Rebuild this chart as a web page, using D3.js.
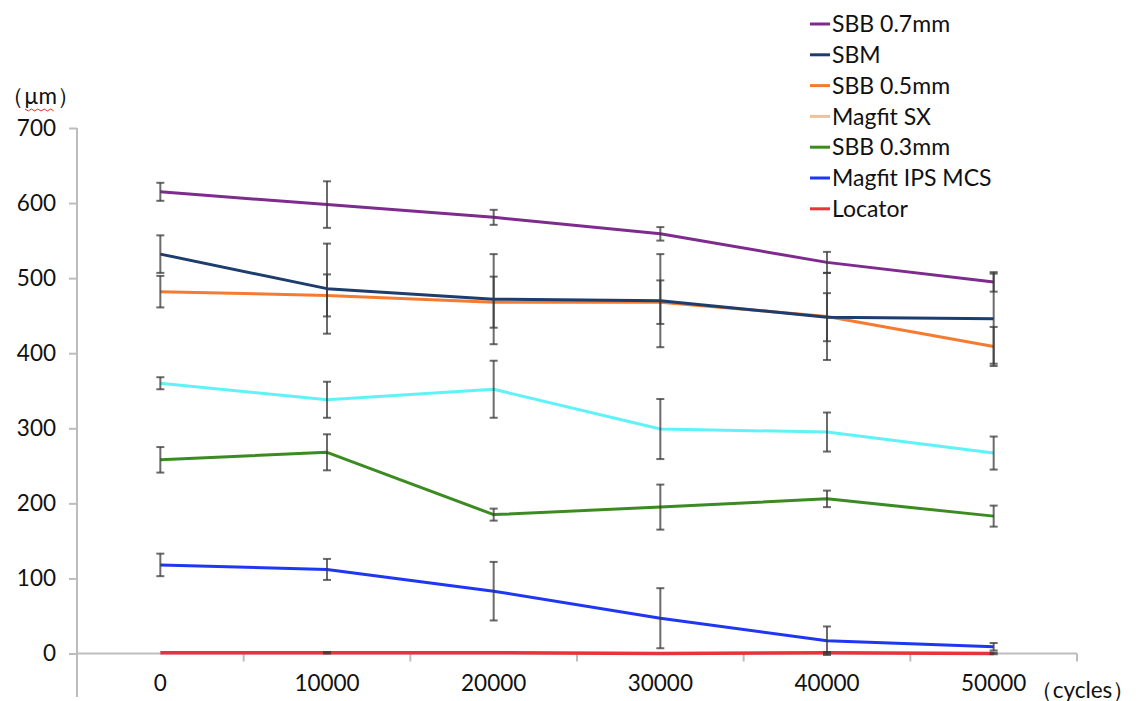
<!DOCTYPE html>
<html><head><meta charset="utf-8">
<script src="https://cdn.jsdelivr.net/npm/d3@7"></script>
<style>body{margin:0;background:#fff}svg{display:block}text{font-family:Lato,"Noto Sans",sans-serif;fill:#111}</style>
</head><body>
<script>
const categories = ["0","10000","20000","30000","40000","50000"];
const seriesNames = ["SBB 0.7mm","SBM","SBB 0.5mm","Magfit SX","SBB 0.3mm","Magfit IPS MCS","Locator"];
const lineColors = ["#7d2b8c","#1c3d6e","#f47b30","#5ff3f7","#3b8b22","#1f36f3","#e8333b"];
const legendColors = ["#7d2b8c","#1c3d6e","#f47b30","#f7bf93","#3b8b22","#1f36f3","#e8333b"];
const sbb07 = [615, 598, 581, 559, 521, 495];
const sbb07Err = [12, 31, 10, 9, 14, 13];
const sbm = [532, 486, 472, 470, 448, 446];
const sbmErr = [25, 60, 60, 62, 32, 60];
const sbb05 = [482, 477, 468, 468, 449, 409];
const sbb05Err = [21, 28, 34, 29, 58, 26];
const magfitSX = [360, 338, 352, 299, 295, 267];
const magfitSXErr = [8, 24, 38, 40, 26, 22];
const sbb03 = [258, 268, 185, 195, 206, 183];
const sbb03Err = [17, 24, 8, 30, 11, 14];
const magfitIPS = [118, 112, 83, 47, 17, 9];
const magfitIPSErr = [15, 14, 39, 40, 19, 5];
const locator = [1, 1, 1, 0, 1, 0];
const locatorErr = [0, 1, 0, 0, 1, 1];
const yTicks = [0,100,200,300,400,500,600,700];

const values = [sbb07, sbm, sbb05, magfitSX, sbb03, magfitIPS, locator];
const errors = [sbb07Err, sbmErr, sbb05Err, magfitSXErr, sbb03Err, magfitIPSErr, locatorErr];

const W = 1138, H = 701;
const svg = d3.select("body").append("svg").attr("width", W).attr("height", H);

const x = d3.scaleBand().domain(categories).range([77, 1077]).padding(0);
const xc = c => x(c) + x.bandwidth() / 2;
const y = d3.scaleLinear().domain([0, 700]).range([653.5, 128]);

const axisColor = "#bdbdbd";
svg.append("line").attr("x1", 77).attr("x2", 77).attr("y1", y(700)).attr("y2", 697)
  .attr("stroke", axisColor).attr("stroke-width", 2);
const yAxis = d3.axisLeft(y).tickValues(yTicks).tickSize(8).tickPadding(13).tickFormat(d3.format("d"));
const gy = svg.append("g").attr("transform", "translate(77,0)").call(yAxis);
gy.select(".domain").remove();
gy.selectAll(".tick line").attr("stroke", axisColor).attr("stroke-width", 2);
gy.selectAll(".tick text").attr("font-size", 22.5).style("font-family", "Lato").attr("fill", "#111");

svg.append("line").attr("x1", 77).attr("x2", 1077).attr("y1", y(0)).attr("y2", y(0))
  .attr("stroke", axisColor).attr("stroke-width", 2);
const bounds = categories.map(c => x(c) + x.bandwidth());
svg.selectAll(".xb").data(bounds).enter().append("line")
  .attr("x1", d => d).attr("x2", d => d).attr("y1", y(0)).attr("y2", y(0) + 8)
  .attr("stroke", axisColor).attr("stroke-width", 2);
const xAxis = d3.axisBottom(x).tickSize(0).tickPadding(22);
const gx = svg.append("g").attr("transform", `translate(0,${y(0)})`).call(xAxis);
gx.select(".domain").remove();
gx.selectAll(".tick text").attr("font-size", 22.5).style("font-family", "Lato").attr("fill", "#111");

svg.append("text").attr("x", 1).attr("y", 104).attr("font-size", 22.5).text("（µm）");
const sq = d3.range(0, 10).map(i => [25 + i * 3.2, 109 + (i % 2 ? 2 : 0)]);
svg.append("path").attr("d", d3.line()(sq)).attr("fill", "none").attr("stroke", "#e0302e").attr("stroke-width", 1);
svg.append("text").attr("x", xc("50000") + 36).attr("y", y(0) + 44).attr("font-size", 22.5).text("（cycles）");

const line = d3.line().x((d, i) => xc(categories[i])).y(d => y(d));
const order = [6, 5, 4, 3, 2, 1, 0];
order.forEach(s => {
  svg.append("path").datum(values[s]).attr("d", line).attr("fill", "none")
    .attr("stroke", lineColors[s]).attr("stroke-width", s === 6 ? 3.5 : 3).attr("stroke-linejoin", "round");
});
order.forEach(s => {
  const g = svg.append("g").attr("stroke", "#3a3a3a").attr("stroke-opacity", 0.75).attr("stroke-width", 2);
  values[s].forEach((v, i) => {
    const e = errors[s][i];
    if (e <= 0) return;
    const cx = xc(categories[i]);
    g.append("line").attr("x1", cx).attr("x2", cx).attr("y1", y(v + e)).attr("y2", y(v - e));
    g.append("line").attr("x1", cx - 4).attr("x2", cx + 4).attr("y1", y(v + e)).attr("y2", y(v + e));
    g.append("line").attr("x1", cx - 4).attr("x2", cx + 4).attr("y1", y(v - e)).attr("y2", y(v - e));
  });
});

const lg = svg.append("g").attr("transform", "translate(810,24)");
seriesNames.forEach((n, i) => {
  const row = lg.append("g").attr("transform", `translate(0,${i * 30.8})`);
  row.append("line").attr("x1", 0).attr("x2", 20).attr("y1", 0).attr("y2", 0)
    .attr("stroke", legendColors[i]).attr("stroke-width", 3);
  row.append("text").attr("x", 22).attr("y", 0).attr("dy", "0.36em").attr("font-size", 23).text(n);
});
</script>
</body></html>
